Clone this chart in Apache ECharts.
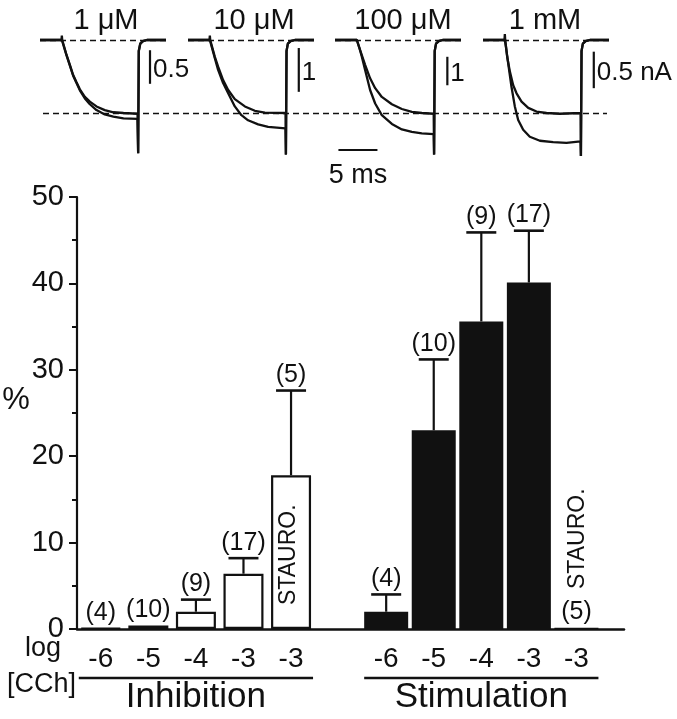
<!DOCTYPE html>
<html><head><meta charset="utf-8">
<script src="https://cdn.jsdelivr.net/npm/echarts@6/dist/echarts.min.js"></script>
<style>html,body{margin:0;padding:0;background:#fff}#c{width:677px;height:719px}</style>
</head><body><div id="c"></div>
<script>
// ================= DATA =================
// Top: current traces, time in ms (0 = pulse onset), current normalised (control steady state = -1)
const concLabels = ['1 μM', '10 μM', '100 μM', '1 mM'];
const ctrlTrace1 = [[-2.8,0],[-0.05,0],[0,0.06],[0.05,0],[0.6,-0.205],[1.03,-0.34],[1.45,-0.48],[1.88,-0.58],[2.31,-0.675],[2.95,-0.78],[3.59,-0.845],[4.44,-0.91],[5.5,-0.96],[6.6,-0.99],[7.9,-1.0],[9.7,-1.01],[9.78,-1.55],[9.86,-0.15],[10.05,-0.05],[10.4,-0.015],[10.9,0],[13.35,0]];
const drugTrace1 = [[-2.8,0],[0,0],[0.6,-0.21],[1.03,-0.35],[1.45,-0.49],[1.88,-0.59],[2.31,-0.69],[2.95,-0.8],[3.59,-0.88],[4.44,-0.96],[5.5,-1.02],[6.6,-1.05],[7.9,-1.075],[9.7,-1.08],[9.78,-1.55],[9.86,-0.15],[10.05,-0.05],[10.4,-0.015],[10.9,0],[13.35,0]];
const ctrlTrace2 = [[-2.8,0],[-0.05,0],[0,0.06],[0.05,0],[0.64,-0.23],[1.06,-0.365],[1.7,-0.55],[2.35,-0.685],[3.2,-0.81],[4.49,-0.91],[5.77,-0.97],[7.05,-0.995],[9.7,-1.0],[9.75,-1.57],[9.83,-0.15],[10.0,-0.05],[10.35,-0.015],[10.9,0],[13.35,0]];
const drugTrace2 = [[-2.8,0],[0,0],[0.64,-0.25],[1.06,-0.41],[1.7,-0.59],[2.35,-0.73],[3.2,-0.91],[4.05,-1.03],[4.9,-1.1],[6.19,-1.155],[7.47,-1.19],[9.7,-1.21],[9.75,-1.57],[9.83,-0.15],[10.0,-0.05],[10.35,-0.015],[10.9,0],[13.35,0]];
const ctrlTrace3 = [[-2.8,0],[0,0],[0.42,-0.137],[1.06,-0.34],[1.7,-0.525],[2.35,-0.66],[3.2,-0.78],[4.49,-0.88],[5.77,-0.945],[7.05,-0.985],[8.33,-1.0],[9.85,-1.01],[9.9,-1.57],[9.98,-0.15],[10.15,-0.05],[10.5,-0.015],[11.0,0],[13.35,0]];
const drugTrace3 = [[-2.8,0],[0,0],[0.3,-0.1],[0.64,-0.23],[1.06,-0.41],[1.7,-0.685],[2.35,-0.87],[3.2,-1.03],[4.49,-1.15],[5.77,-1.225],[7.05,-1.26],[8.33,-1.28],[9.85,-1.29],[9.9,-1.57],[9.98,-0.15],[10.15,-0.05],[10.5,-0.015],[11.0,0],[13.35,0]];
const ctrlTrace4 = [[-2.8,0],[-0.05,0],[0,0.08],[0.05,0],[0.3,-0.23],[0.64,-0.43],[1.07,-0.62],[1.5,-0.73],[2.14,-0.845],[3.0,-0.93],[4.06,-0.98],[5.34,-1.0],[7.05,-1.01],[9.7,-1.0],[9.75,-1.59],[9.83,-0.15],[10.0,-0.05],[10.35,-0.015],[10.9,0],[13.35,0]];
const drugTrace4 = [[-2.8,0],[0,0],[0.15,-0.1],[0.43,-0.32],[0.85,-0.64],[1.28,-0.91],[1.71,-1.095],[2.35,-1.23],[3.2,-1.325],[4.49,-1.38],[6.19,-1.4],[7.9,-1.41],[9.7,-1.39],[9.75,-1.59],[9.83,-0.15],[10.0,-0.05],[10.35,-0.015],[10.9,0],[13.35,0]];
const refLevel = -1;              // lower dashed line (control steady state)
const scaleBarT = [11.3, 11.4, 11.6, 11.4];
const scaleBarTop = [-0.14, -0.11, -0.23, -0.16];
const scaleBarBottom = [-0.6, -0.71, -0.62, -0.66];
const scaleBarLabels = ['0.5', '1', '1', '0.5 nA'];
const timeBar = [-2.36, 5, -1.507];  // start (ms), length (ms), level
const timeBarLabel = '5 ms';

// Bottom: bar chart (%)
const doseLabels = ['-6', '-5', '-4', '-3', '-3'];
const groupNames = ['Inhibition', 'Stimulation'];
const inhibMean = [0.1, 0.4, 2.0, 6.4, 17.8];
const inhibErr  = [0, 0, 1.4, 1.8, 9.8];
const inhibN    = [4, 10, 9, 17, 5];
const stimMean  = [2.0, 23.0, 35.6, 40.1, 0.15];
const stimErr   = [2.0, 8.2, 10.3, 6.0, 0];
const stimN     = [4, 10, 9, 17, 5];
const stauroIndex = 4;
const stauroText = 'STAURO.';

// ================= LAYOUT =================
const FONT = '"Liberation Sans", Arial, Helvetica, sans-serif';
const INK = '#111';
const panelLeft = [40, 188, 335, 483];
const titleX = [106, 254, 403, 545];
const T_MIN = -2.8, T_MAX = 13.35, I_MIN = -1.6, I_MAX = 0.2;
const stimOffset = 6;

const chart = echarts.init(document.getElementById('c'), null, {renderer: 'canvas'});
const grid = [], xAxis = [], yAxis = [], series = [];
const traces = [[ctrlTrace1, drugTrace1], [ctrlTrace2, drugTrace2], [ctrlTrace3, drugTrace3], [ctrlTrace4, drugTrace4]];

function txt(x, y, text, size, align, valign, extra) {
  return Object.assign({type: 'text', x: x, y: y, silent: true,
    style: {text: text, font: size + 'px ' + FONT, fill: INK, align: align, verticalAlign: valign}}, extra || {});
}

for (let p = 0; p < 4; p++) {
  grid.push({left: panelLeft[p], width: 126, top: 25.4, height: 131.4, outerBoundsMode: 'none', containLabel: false});
  xAxis.push({type: 'value', gridIndex: p, min: T_MIN, max: T_MAX, show: false});
  yAxis.push({type: 'value', gridIndex: p, min: I_MIN, max: I_MAX, show: false});
  traces[p].forEach((tr, k) => {
    const s = {type: 'line', xAxisIndex: p, yAxisIndex: p, data: tr, symbol: 'none', showSymbol: false,
      silent: true, animation: false, z: 3, lineStyle: {color: INK, width: 2.3}};
    if (k === 0) {
      s.markLine = {silent: true, symbol: 'none', animation: false, label: {show: false},
        lineStyle: {color: INK, width: 1.4, type: [6, 4]}, data: [{yAxis: 0}]};
    }
    series.push(s);
  });
  series.push({type: 'custom', xAxisIndex: p, yAxisIndex: p, clip: false, silent: true, animation: false,
    data: [[scaleBarT[p], scaleBarTop[p], scaleBarBottom[p]]],
    renderItem: (params, api) => {
      const a = api.coord([api.value(0), api.value(1)]);
      const b = api.coord([api.value(0), api.value(2)]);
      return {type: 'group', children: [
        {type: 'line', shape: {x1: a[0], y1: a[1], x2: b[0], y2: b[1]}, style: {stroke: INK, lineWidth: 2.2}},
        txt(a[0] + 3, (a[1] + b[1]) / 2 + 3, scaleBarLabels[p], 26, 'left', 'middle')
      ]};
    }});
}
// time scale bar in panel 3
series.push({type: 'custom', xAxisIndex: 2, yAxisIndex: 2, clip: false, silent: true, animation: false,
  data: [timeBar],
  renderItem: (params, api) => {
    const a = api.coord([api.value(0), api.value(2)]);
    const b = api.coord([api.value(0) + api.value(1), api.value(2)]);
    return {type: 'group', children: [
      {type: 'line', shape: {x1: a[0], y1: a[1], x2: b[0], y2: b[1]}, style: {stroke: INK, lineWidth: 2.2}},
      txt((a[0] + b[0]) / 2, a[1] + 26, timeBarLabel, 27, 'center', 'middle')
    ]};
  }});
// lower dashed reference line across panels
grid.push({left: 43, width: 564, top: 25.4, height: 131.4, outerBoundsMode: 'none', containLabel: false});
xAxis.push({type: 'value', gridIndex: 4, min: 0, max: 1, show: false});
yAxis.push({type: 'value', gridIndex: 4, min: I_MIN, max: I_MAX, show: false});
series.push({type: 'line', xAxisIndex: 4, yAxisIndex: 4, data: [], silent: true, animation: false,
  markLine: {silent: true, symbol: 'none', animation: false, label: {show: false},
    lineStyle: {color: INK, width: 1.4, type: [6, 4]}, data: [{yAxis: refLevel}]}});

// bar chart grid
grid.push({left: 77, right: 53, top: 197, bottom: 90, outerBoundsMode: 'none', containLabel: false});
xAxis.push({type: 'value', gridIndex: 5, min: -0.5, max: 11,
  axisLine: {show: true, onZero: false, lineStyle: {color: INK, width: 2.5}},
  axisTick: {show: false}, axisLabel: {show: false}, splitLine: {show: false}});
xAxis.push({type: 'value', gridIndex: 5, min: -0.5, max: 11, show: false});
yAxis.push({type: 'value', gridIndex: 5, min: 0, max: 50, interval: 10,
  axisLine: {show: true, onZero: false, lineStyle: {color: INK, width: 2.2}},
  axisTick: {show: true, inside: false, length: 8, lineStyle: {color: INK, width: 2}},
  minorTick: {show: true, splitNumber: 2, length: 5, lineStyle: {color: INK, width: 2}},
  axisLabel: {show: true, color: INK, fontSize: 29, fontFamily: FONT, margin: 13},
  splitLine: {show: false}, minorSplitLine: {show: false}});

series.push({type: 'bar', xAxisIndex: 5, yAxisIndex: 5, barWidth: 40, silent: true, animation: false,
  data: inhibMean.map((v, i) => [i, v]),
  itemStyle: {color: '#fff', borderColor: INK, borderWidth: 2.2}});
series.push({type: 'bar', xAxisIndex: 6, yAxisIndex: 5, barWidth: 44, silent: true, animation: false,
  data: stimMean.map((v, i) => [i + stimOffset, v]),
  itemStyle: {color: INK}});

function extrasSeries(mean, err, ns, offset, isStim) {
  return {type: 'custom', xAxisIndex: 5, yAxisIndex: 5, clip: false, silent: true, animation: false, z: 5,
    data: mean.map((v, i) => [i + offset, v, err[i], i]),
    renderItem: (params, api) => {
      const x = api.value(0), m = api.value(1), e = api.value(2), i = api.value(3);
      const base = api.coord([x, 0]);
      const top = api.coord([x, m]);
      const ch = [];
      let labY = top[1] - 3;
      if (e > 0) {
        const et = api.coord([x, m + e]);
        ch.push({type: 'line', shape: {x1: top[0], y1: top[1], x2: et[0], y2: et[1]}, style: {stroke: INK, lineWidth: 2.2}});
        ch.push({type: 'line', shape: {x1: et[0] - 15, y1: et[1], x2: et[0] + 15, y2: et[1]}, style: {stroke: INK, lineWidth: 2.6}});
        labY = et[1] - 3;
      }
      ch.push(txt(base[0], labY, '(' + ns[i] + ')', 25, 'center', 'bottom'));
      ch.push(txt(base[0], base[1] + 16, doseLabels[i], 28, 'center', 'top'));
      if (i === stauroIndex) {
        const sy = isStim ? base[1] - 40 : base[1] - 24;
        const sx = isStim ? base[0] + 1 : base[0] - 2;
        ch.push(txt(sx, sy, stauroText, 23, 'left', 'middle', {rotation: Math.PI / 2}));
      }
      return {type: 'group', children: ch};
    }};
}
series.push(extrasSeries(inhibMean, inhibErr, inhibN, 0, false));
series.push(extrasSeries(stimMean, stimErr, stimN, stimOffset, true));

// group underline + names
series.push({type: 'custom', xAxisIndex: 5, yAxisIndex: 5, clip: false, silent: true, animation: false,
  data: [[0, 4, 0], [stimOffset, stimOffset + 4, 1]],
  renderItem: (params, api) => {
    const a = api.coord([api.value(0), 0]);
    const b = api.coord([api.value(1), 0]);
    const name = groupNames[api.value(2)];
    return {type: 'group', children: [
      {type: 'line', shape: {x1: a[0] - 22, y1: a[1] + 49, x2: b[0] + 22, y2: b[1] + 49}, style: {stroke: INK, lineWidth: 2.6}},
      txt((a[0] + b[0]) / 2, a[1] + 68, name, 35, 'center', 'middle')
    ]};
  }});

const graphic = concLabels.map((t, i) => txt(titleX[i], 21, t, 29, 'center', 'middle'));
graphic.push(txt(16, 400, '%', 31, 'center', 'middle'));
graphic.push(txt(25, 649, 'log', 27, 'left', 'middle'));
graphic.push(txt(7, 685, '[CCh]', 27, 'left', 'middle'));

chart.setOption({backgroundColor: '#fff', animation: false, grid, xAxis, yAxis, series, graphic});
</script></body></html>
